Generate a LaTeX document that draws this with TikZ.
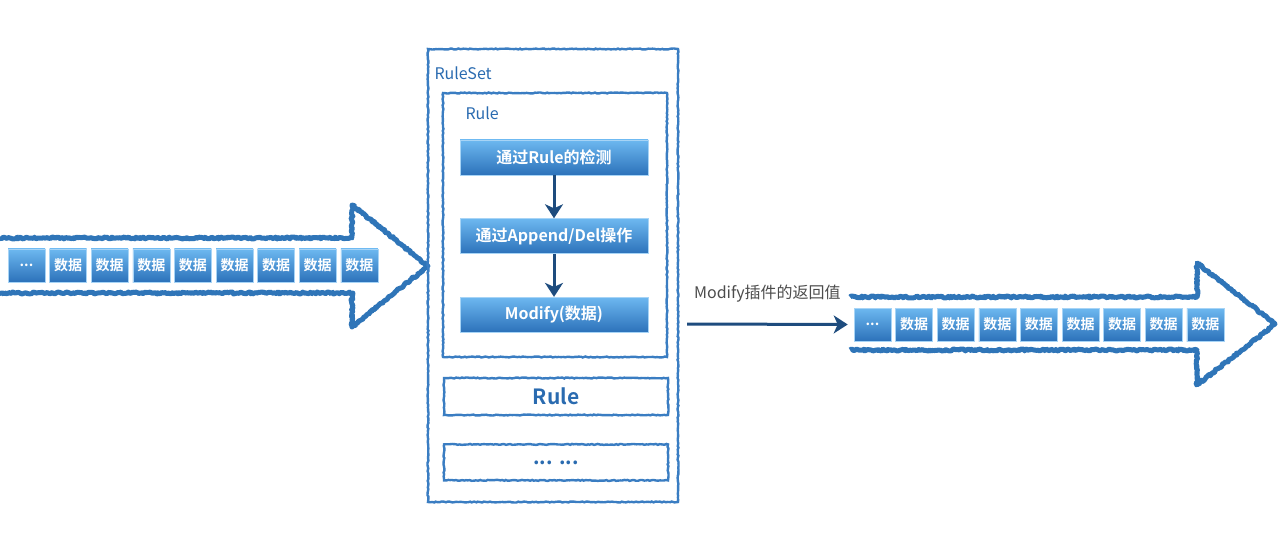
\documentclass[tikz,border=0pt]{standalone}
\usepackage{fontspec}
\setmainfont{Noto Sans CJK SC}[BoldFont={Noto Sans CJK SC Bold}]
\usepackage{tikz}
\usetikzlibrary{arrows.meta, positioning, calc, decorations.pathmorphing}

\definecolor{frameblue}{HTML}{3A7DC2}
\definecolor{arrowblue}{HTML}{2F75B8}
\definecolor{darkblue}{HTML}{1E4C7E}
\definecolor{textblue}{HTML}{2A6BB0}
\definecolor{boxtop}{HTML}{6DB8F0}
\definecolor{boxbot}{HTML}{2C72BA}

\begin{document}
\begin{tikzpicture}[x=1pt, y=-1pt,
    rough/.style={decorate, decoration={random steps, segment length=2pt, amplitude=0.5pt}},
    frame/.style={draw=frameblue, line width=2.4pt, rough, minimum width=224pt, inner sep=0pt},
    bigarrow/.style={draw=arrowblue, line width=5pt, line join=round, decorate,
        decoration={random steps, segment length=1.5pt, amplitude=1pt}},
    bluebox/.style={top color=boxtop, bottom color=boxbot, draw=boxtop!60!white, line width=0.6pt,
        text=white, inner sep=0pt},
    databox/.style={bluebox, minimum width=37pt, minimum height=33pt, font=\bfseries\fontsize{14}{14}\selectfont},
    stepbox/.style={bluebox, minimum width=188pt, minimum height=35pt, font=\bfseries\fontsize{16}{16}\selectfont},
    flow/.style={draw=darkblue, line width=3pt, -{Stealth[length=14pt, width=18pt, inset=4pt]}},
]
    \useasboundingbox (0,0) rectangle (1280,540);

    \draw[bigarrow] (0,238) -- (352,238) -- (352,205) -- (428,266) -- (352,327) -- (352,293) -- (0,293);
    \draw[bigarrow] (850,297) -- (1197,297) -- (1197,263) -- (1275,324) -- (1197,385) -- (1197,350) -- (850,350);

    \node[databox] (l0) at (26.5,265.5) {...};
    \foreach \i [count=\j from 0] in {1,...,8}
        \node[databox, right=4pt of l\j] (l\i) {数据};

    \node[databox] (r0) at (872.5,324.5) {...};
    \foreach \i [count=\j from 0] in {1,...,8}
        \node[databox, right=4pt of r\j] (r\i) {数据};

    \node[frame, minimum width=250pt, minimum height=453pt] (ruleset) at (553,275.5) {};
    \node[anchor=west, text=textblue, font=\fontsize{16}{16}\selectfont] (rulesetlbl) at (431,73) {RuleSet};

    \node[frame, minimum height=264pt] (rule) at (555,225) {};
    \node[anchor=west, text=textblue, font=\fontsize{16}{16}\selectfont] (rulelbl) at (462,113) {Rule};

    \node[stepbox] (check) at (554,157.5) {通过Rule的检测};
    \node[stepbox, below=43pt of check] (edit) {通过Append/Del操作};
    \node[stepbox, below=43pt of edit] (modify) {Modify(数据)};
    \draw[flow] (check) -- (edit);
    \draw[flow] (edit) -- (modify);

    \node[frame, minimum height=37pt, text=textblue, font=\bfseries\fontsize{21}{21}\selectfont] (rule2) at (556,396.5) {Rule};
    \node[frame, minimum height=36pt, below=27pt of rule2, text=textblue, font=\bfseries\fontsize{20}{20}\selectfont] (more) {... ...};

    \coordinate (retstart) at (687,324);
    \draw[flow] (retstart) -- ([xshift=-6pt]r0.west)
        node[midway, above=17pt, text=black!70, font=\fontsize{16}{16}\selectfont] (retlbl) {Modify插件的返回值};
\end{tikzpicture}
\end{document}
